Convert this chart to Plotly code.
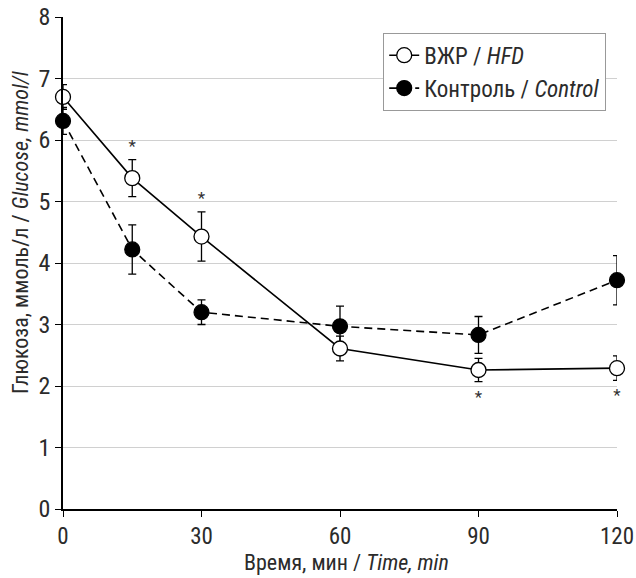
import plotly.graph_objects as go

time_min = [0, 15, 30, 60, 90, 120]
hfd_mean = [6.70, 5.38, 4.43, 2.61, 2.26, 2.29]
hfd_err = [0.20, 0.30, 0.40, 0.20, 0.19, 0.20]
ctrl_mean = [6.31, 4.22, 3.20, 2.97, 2.83, 3.72]
ctrl_err = [0.22, 0.40, 0.20, 0.33, 0.30, 0.40]
x_ticks = [0, 30, 60, 90, 120]
y_ticks = [0, 1, 2, 3, 4, 5, 6, 7, 8]

# significance marks (HFD vs Control): above at 15, 30; below at 90, 120
star_x = [15, 30, 90, 120]
star_side = [1, 1, -1, -1]

FONT = "Liberation Sans Narrow, Roboto Condensed, Arial Narrow, Liberation Sans, sans-serif"
TXT = "#2b2b2b"

fig = go.Figure()

fig.add_trace(go.Scatter(
    x=time_min, y=ctrl_mean, mode="lines+markers",
    name="Контроль / <i>Control</i>",
    line=dict(color="black", width=1.6, dash="8px,5px"),
    marker=dict(size=15, color="black", line=dict(color="black", width=1.2)),
    error_y=dict(type="data", array=ctrl_err, color="black", thickness=1.3, width=4),
    cliponaxis=False,
))
fig.add_trace(go.Scatter(
    x=time_min, y=hfd_mean, mode="lines+markers",
    name="ВЖР / <i>HFD</i>",
    line=dict(color="black", width=1.6),
    marker=dict(size=15, color="white", line=dict(color="black", width=1.3)),
    error_y=dict(type="data", array=hfd_err, color="black", thickness=1.3, width=4),
    cliponaxis=False,
))

star_y = []
for sx, side in zip(star_x, star_side):
    i = time_min.index(sx)
    if side > 0:
        star_y.append(hfd_mean[i] + hfd_err[i] + 0.2)
    else:
        star_y.append(hfd_mean[i] - hfd_err[i] - 0.27)
fig.add_trace(go.Scatter(
    x=star_x, y=star_y, mode="text", text=["*"] * len(star_x),
    textfont=dict(size=17, color="#333", family=FONT),
    showlegend=False, cliponaxis=False, hoverinfo="skip",
))

fig.update_layout(
    width=636, height=578,
    margin=dict(l=63, r=19, t=17, b=69),
    paper_bgcolor="white", plot_bgcolor="white",
    font=dict(family=FONT, color=TXT, size=22),
    showlegend=True,
    legend=dict(
        x=0.578, y=0.968, xanchor="left", yanchor="top",
        bgcolor="white", bordercolor="#999", borderwidth=1,
        font=dict(size=23, family=FONT, color=TXT),
        traceorder="reversed", itemwidth=30, tracegroupgap=0,
    ),
    xaxis=dict(
        range=[0, 120], tickvals=x_ticks, ticktext=[str(v) for v in x_ticks],
        showgrid=False, zeroline=False, automargin=False,
        showline=True, linecolor="black", linewidth=1.5,
        ticks="outside", ticklen=6, tickwidth=1.3, tickcolor="black",
        tickfont=dict(size=23, family=FONT, color=TXT),
    ),
    yaxis=dict(
        range=[0, 8], tickvals=y_ticks, automargin=False,
        showgrid=True, gridcolor="#d0d0d0", gridwidth=1.2, zeroline=False,
        showline=True, linecolor="black", linewidth=1.5,
        ticks="outside", ticklen=6, tickwidth=1.3, tickcolor="black",
        tickfont=dict(size=24, family=FONT, color=TXT),
    ),
    annotations=[
        dict(text="Время, мин / <i>Time, min</i>", xref="paper", yref="paper",
             x=0.511, y=-0.109, xanchor="center", yanchor="middle", showarrow=False,
             font=dict(size=22, family=FONT, color=TXT)),
        dict(text="Глюкоза, ммоль/л / <i>Glucose, mmol/l</i>", xref="paper", yref="paper",
             x=-0.078, y=0.896, xanchor="center", yanchor="top", textangle=-90, showarrow=False,
             font=dict(size=22, family=FONT, color=TXT)),
    ],
)

fig.write_html("out.html")
